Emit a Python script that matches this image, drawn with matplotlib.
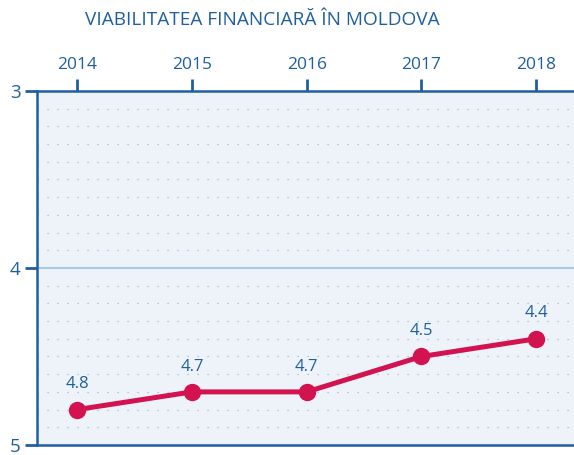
import matplotlib.pyplot as plt
from matplotlib.ticker import MultipleLocator

# ---- Dados ----
years = [2014, 2015, 2016, 2017, 2018]
scores = [4.8, 4.7, 4.7, 4.5, 4.4]
score_labels = ["4.8", "4.7", "4.7", "4.5", "4.4"]
y_ticks = [3, 4, 5]

blue = "#1f5fa0"
red = "#d3134f"

plt.rcParams["font.family"] = ["Open Sans", "DejaVu Sans"]

fig = plt.figure(figsize=(5.74, 4.55), dpi=100)
ax = fig.add_axes([0.0645, 0.022, 0.9355, 0.778])
ax.set_facecolor("#eef3fa")

ax.set_xlim(2013.65, 2018.33)
ax.set_ylim(5, 3)

# grade pontilhada
ax.yaxis.set_minor_locator(MultipleLocator(0.1))
ax.grid(which="minor", axis="y", color="#a9b4c2", linestyle=(0, (1, 7)), linewidth=0.9)
ax.axhline(4, color="#a9c8e6", linewidth=1.5, zorder=1)

ax.plot(years, scores, color=red, linewidth=3.6, marker="o", markersize=11.5, zorder=3)
for x, y, t in zip(years, scores, score_labels):
    ax.annotate(t, (x, y), xytext=(0, 12.5), textcoords="offset points",
                ha="center", va="bottom", fontsize=12, color=blue)

ax.set_yticks(y_ticks)
ax.set_yticklabels([str(v) for v in y_ticks])
ax.set_xticks(years)
ax.xaxis.tick_top()
ax.tick_params(axis="x", colors=blue, labelcolor=blue, length=9, width=2, labelsize=12.5, pad=4)
ax.tick_params(axis="y", which="major", colors=blue, labelcolor=blue, length=9, width=2, labelsize=13.5, pad=3)
ax.tick_params(axis="y", which="minor", length=0)

for side in ["left", "bottom", "top"]:
    ax.spines[side].set_color(blue)
    ax.spines[side].set_linewidth(1.8)
ax.spines["right"].set_visible(False)

fig.text(0.148, 0.957, "VIABILITATEA FINANCIARĂ ÎN MOLDOVA", fontsize=13.7,
         color=blue, ha="left", va="center")

plt.savefig("out.png", dpi=100)
